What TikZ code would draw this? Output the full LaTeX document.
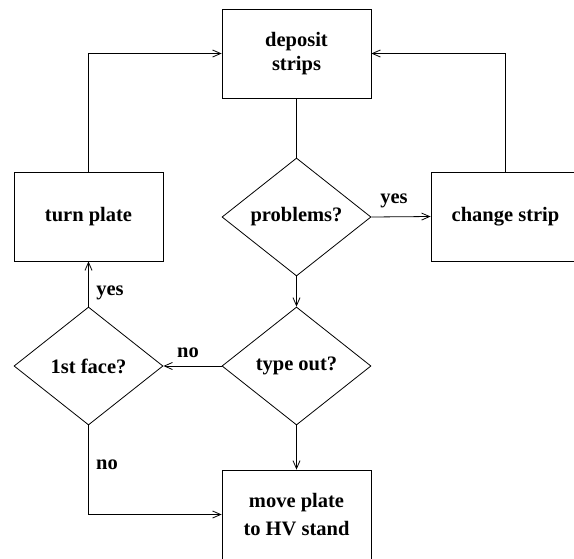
\documentclass[tikz,border=0pt]{standalone}
\usepackage{fontspec}
\setmainfont{Liberation Serif}
\usetikzlibrary{shapes.geometric,arrows.meta}
\begin{document}
\begin{tikzpicture}[x=1pt,y=-1pt,
  line width=0.8pt,
  >={Straight Barb[length=8pt,width=7pt,line width=0.8pt]},
  every node/.style={font=\fontsize{20.5}{24}\selectfont\bfseries},
  boxnode/.style={draw, rectangle, minimum width=149pt, minimum height=89pt, inner sep=0pt, align=center},
  decision/.style={draw, diamond, minimum width=149pt, minimum height=118pt, inner sep=0pt, align=center},
  lbl/.style={inner sep=0pt}]
\useasboundingbox (0,0) rectangle (574,558);
\node[boxnode] (dep) at (296.5,53.5) {deposit\\strips};
\node[decision] (prob) at (296.5,217) {problems?};
\node[boxnode] (chg) at (505.5,216.5) {change strip};
\node[decision] (typ) at (296.5,366) {type out?};
\node[decision] (face) at (88.5,366) {1st face?};
\node[boxnode] (turn) at (88.5,216.5) {turn plate};
\node[boxnode] (move) at (296.5,514.5) {move plate\\[4pt]to HV stand};
\coordinate (tl) at (88.5,53.5);
\coordinate (tr) at (505.5,53.5);
\draw (dep.south) -- (prob.north);
\draw[->] (prob.east) -- (chg.west);
\draw[->] (prob.south) -- (typ.north);
\draw[->] (typ.west) -- (face.east);
\draw[->] (typ.south) -- (move.north);
\draw[->] (face.north) -- (turn.south);
\draw[->] (face.south) |- (move.west);
\draw[->] (turn.north) -- (tl) -- (dep.west);
\draw[->] (chg.north) -- (tr) -- (dep.east);
\node[lbl] (l1) at (394,201) {yes};
\node[lbl] (l2) at (188,353) {no};
\node[lbl] (l3) at (110,293) {yes};
\node[lbl] (l4) at (107,465) {no};
\end{tikzpicture}
\end{document}
